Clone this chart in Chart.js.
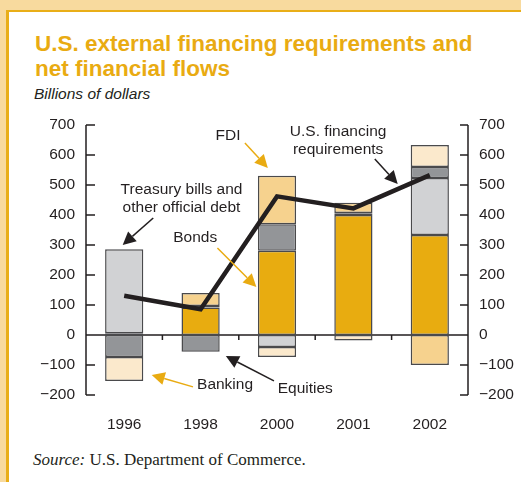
<!DOCTYPE html>
<html lang="en">

<head>
    <meta charset="UTF-8">
    <title>U.S. external financing requirements and net financial flows</title>
    <script src="https://cdn.jsdelivr.net/npm/chart.js@4.4.1/dist/chart.umd.min.js"></script>
    <style>
        body { margin: 0; background: #f8da9e; font-family: 'Liberation Sans', Arial, sans-serif; }
        #panel { position: absolute; left: 6px; top: 10px; right: 0; bottom: 0; background: #fff;
                 border-left: 3px solid #e9ae18; border-top: 2.5px solid #e9ae18; }
        #title { position: absolute; left: 35px; top: 31px; margin: 0; color: #e9ab12;
                 font-size: 22.5px; line-height: 25px; font-weight: bold; }
        #subtitle { position: absolute; left: 34px; top: 85px; font-style: italic; font-size: 15.5px;
                    line-height: 17px; color: #231f20; }
        #source { position: absolute; left: 33px; top: 450px; font-family: 'Liberation Serif', serif;
                  font-size: 17px; line-height: 19px; color: #231f20; }
        canvas { position: absolute; left: 0; top: 0; }
    </style>
</head>

<body>
    <div id="panel"></div>
    <h1 id="title">U.S. external financing requirements and<br>net financial flows</h1>
    <div id="subtitle">Billions of dollars</div>
    <div id="source"><i>Source:</i> U.S. Department of Commerce.</div>
    <canvas id="chart" width="521" height="482"></canvas>
    <script>
        // valores (miles de millones de dolares)
        const years = ['1996', '1998', '2000', '2001', '2002'];
        const bonds = [6, 92, 281, 400, 333];
        const treasury = [280, 5, -40, 4, 190];
        const equities = [-73, -56, 88, 3, 37];
        const banking = [-80, null, -33, -18, 73];
        const fdi = [null, 43, 162, 34, -100];
        const requirements = [131, 86, 462, 422, 533];
        const yTicks = [-200, -100, 0, 100, 200, 300, 400, 500, 600, 700];

        const GOLD = '#e9ab12';
        const INK = '#231f20';

        // notas: posicion en unidades de categoria (x) y de valor (y)
        const notes = [
            { lines: ['FDI'], at: [1.36, 663] },
            { lines: ['Treasury bills and', 'other official debt'], at: [0.75, 483] },
            { lines: ['Bonds'], at: [0.93, 323] },
            { lines: ['U.S. financing', 'requirements'], at: [2.80, 677] },
            { lines: ['Banking'], at: [1.32, -167] },
            { lines: ['Equities'], at: [2.37, -180] }
        ];
        const arrows = [
            { from: [1.58, 640], to: [1.88, 557], color: GOLD },
            { from: [0.38, 390], to: [-0.02, 300], color: INK },
            { from: [1.22, 290], to: [1.73, 160], color: GOLD },
            { from: [3.28, 587], to: [3.58, 503], color: INK },
            { from: [0.90, -173], to: [0.36, -133], color: GOLD },
            { from: [1.96, -153], to: [1.33, -70], color: INK }
        ];

        Chart.defaults.font.family = "'Liberation Sans', Arial, sans-serif";
        Chart.defaults.color = INK;

        function pt(chart, p) {
            const xs = chart.scales.x;
            const step = xs.getPixelForValue(1) - xs.getPixelForValue(0);
            return [xs.getPixelForValue(0) + p[0] * step, chart.scales.y.getPixelForValue(p[1])];
        }

        // ejes con marcas hacia adentro, linea de cero y anotaciones
        const frame = {
            id: 'frame',
            beforeDatasetsDraw(chart) {
                const ctx = chart.ctx, a = chart.chartArea, ys = chart.scales.y, xs = chart.scales.x;
                ctx.save();
                ctx.strokeStyle = INK;
                ctx.lineWidth = 1.5;
                const y0 = ys.getPixelForValue(0);
                ctx.beginPath();
                ctx.moveTo(a.left, y0); ctx.lineTo(a.right, y0);
                for (let i = 1; i < years.length; i++) {
                    const x = (xs.getPixelForValue(i - 1) + xs.getPixelForValue(i)) / 2;
                    ctx.moveTo(x, y0); ctx.lineTo(x, y0 + 5);
                }
                ctx.moveTo(a.left, a.top); ctx.lineTo(a.left, a.bottom);
                ctx.moveTo(a.right, a.top); ctx.lineTo(a.right, a.bottom);
                yTicks.forEach(v => {
                    const y = ys.getPixelForValue(v);
                    ctx.moveTo(a.left, y); ctx.lineTo(a.left + 9, y);
                    ctx.moveTo(a.right - 8, y); ctx.lineTo(a.right, y);
                });
                ctx.stroke();
                ctx.restore();
            },
            afterDraw(chart) {
                const ctx = chart.ctx;
                ctx.save();
                ctx.font = "15.5px 'Liberation Sans', Arial, sans-serif";
                ctx.fillStyle = INK;
                ctx.textAlign = 'center';
                ctx.textBaseline = 'middle';
                notes.forEach(n => {
                    const [x, y] = pt(chart, n.at);
                    n.lines.forEach((t, i) => ctx.fillText(t, x, y + i * 18));
                });
                arrows.forEach(ar => {
                    const [x1, y1] = pt(chart, ar.from);
                    const [x2, y2] = pt(chart, ar.to);
                    const ang = Math.atan2(y2 - y1, x2 - x1);
                    const len = 13, half = 6.5;
                    const bx = x2 - len * Math.cos(ang), by = y2 - len * Math.sin(ang);
                    ctx.strokeStyle = ar.color;
                    ctx.fillStyle = ar.color;
                    ctx.lineWidth = 1.5;
                    ctx.beginPath();
                    ctx.moveTo(x1, y1); ctx.lineTo(bx, by);
                    ctx.stroke();
                    ctx.beginPath();
                    ctx.moveTo(x2, y2);
                    ctx.lineTo(bx + half * Math.sin(ang), by - half * Math.cos(ang));
                    ctx.lineTo(bx - half * Math.sin(ang), by + half * Math.cos(ang));
                    ctx.closePath();
                    ctx.fill();
                });
                ctx.restore();
            }
        };

        const barStyle = { borderColor: '#4a4a4c', borderWidth: 1.5, borderSkipped: false, order: 1 };
        const tickFont = { size: 15.5 };
        const fmt = v => (v < 0 ? '\u2212' + Math.abs(v) : '' + v);

        const ctx = document.getElementById('chart').getContext('2d');
        const myChart = new Chart(ctx, {
            type: 'bar',
            data: {
                labels: years,
                datasets: [
                    { label: 'Bonds', data: bonds, backgroundColor: '#e8ac10', ...barStyle },
                    { label: 'Treasury bills and other official debt', data: treasury, backgroundColor: '#d1d2d4', ...barStyle },
                    { label: 'Equities', data: equities, backgroundColor: '#939598', ...barStyle },
                    { label: 'Banking', data: banking, backgroundColor: '#fbe9cc', ...barStyle },
                    { label: 'FDI', data: fdi, backgroundColor: '#f6d28e', ...barStyle },
                    {
                        type: 'line', label: 'U.S. financing requirements', data: requirements, stack: 'req',
                        borderColor: INK, borderWidth: 4.5, pointRadius: 0, tension: 0, order: 0,
                        borderJoinStyle: 'miter'
                    }
                ]
            },
            options: {
                responsive: false,
                animation: false,
                layout: { padding: { top: 125, left: 0, right: 0, bottom: 0 } },
                datasets: { bar: { barPercentage: 0.5, categoryPercentage: 1 } },
                plugins: { legend: { display: false }, tooltip: { enabled: false } },
                scales: {
                    x: {
                        stacked: true,
                        offset: true,
                        grid: { display: false, drawTicks: false },
                        border: { display: false },
                        ticks: { font: tickFont, padding: 20 },
                        afterFit(s) { s.height = 87; }
                    },
                    y: {
                        stacked: true, min: -200, max: 700,
                        grid: { display: false, drawTicks: false },
                        border: { display: false },
                        ticks: { stepSize: 100, padding: 11, font: tickFont, callback: fmt },
                        afterFit(s) { s.width = 86; }
                    },
                    y2: {
                        position: 'right', min: -200, max: 700,
                        grid: { display: false, drawTicks: false },
                        border: { display: false },
                        ticks: { stepSize: 100, padding: 11, font: tickFont, callback: fmt },
                        afterFit(s) { s.width = 53; }
                    }
                }
            },
            plugins: [frame]
        });
    </script>
</body>

</html>
